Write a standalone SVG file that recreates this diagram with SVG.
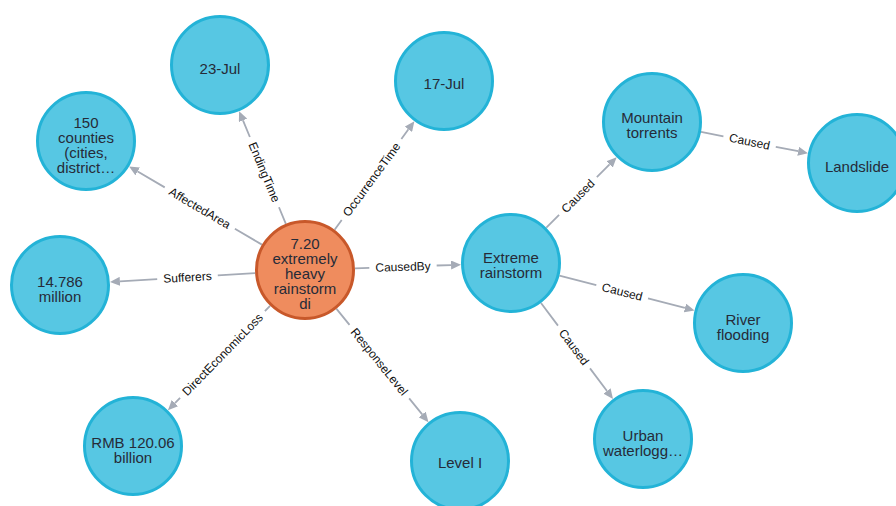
<svg xmlns="http://www.w3.org/2000/svg" width="896" height="506" viewBox="0 0 896 506">
  <defs>
    <marker id="arrow" markerWidth="10" markerHeight="9" refX="0" refY="4.5" orient="auto" markerUnits="userSpaceOnUse">
      <path d="M0,0 L10,4.5 L0,9 Z" fill="#A5ABB6"/>
    </marker>
    <style>
      .edge { fill: none; stroke: #A5ABB6; stroke-width: 1.8; marker-end: url(#arrow); }
      .elabel { font-family: "Liberation Sans", Arial, sans-serif; font-size: 12px; fill: #111; text-anchor: middle; }
      .node circle { stroke-width: 3; }
      .entity circle { fill: #57C7E3; stroke: #23B3D7; }
      .event circle { fill: #EF8C5E; stroke: #C8582A; }
      .node text { font-family: "Liberation Sans", Arial, sans-serif; font-size: 15px; fill: #262B38; text-anchor: middle; }
    </style>
  </defs>
  <rect width="896" height="506" fill="#FFFFFF"/>

  <!-- relationships: each shaft is split around its label -->
  <g id="connectors">
    <path class="edge" d="M285.85,223.81 L278.97,207.22 M249.87,137.02 L242.98,120.43"/>
    <text class="elabel" transform="translate(264.42,172.12) rotate(67.5)" dy=".35em">EndingTime</text>

    <path class="edge" d="M334.63,229.72 L341.71,220.09 M401.37,138.97 L408.45,129.34"/>
    <text class="elabel" transform="translate(371.54,179.53) rotate(-53.67)" dy=".35em">OccurrenceTime</text>

    <path class="edge" d="M261.92,244.62 L234.88,228.70 M164.74,187.38 L137.70,171.46"/>
    <text class="elabel" transform="translate(199.81,208.04) rotate(30.5)" dy=".35em">AffectedArea</text>

    <path class="edge" d="M255.09,273.06 L217.78,275.35 M157.20,279.05 L119.89,281.33"/>
    <text class="elabel" transform="translate(187.49,277.20) rotate(-3.5)" dy=".35em">Sufferers</text>

    <path class="edge" d="M270.05,305.76 L264.92,311.02 M180.08,397.84 L174.94,403.09"/>
    <text class="elabel" transform="translate(222.50,354.43) rotate(-45.7)" dy=".35em">DirectEconomicLoss</text>

    <path class="edge" d="M336.51,308.82 L349.51,324.85 M409.19,398.39 L422.19,414.42"/>
    <text class="elabel" transform="translate(379.35,361.62) rotate(50.94)" dy=".35em">ResponseLevel</text>

    <path class="edge" d="M354.97,268.30 L369.32,267.82 M436.68,265.52 L451.04,265.04"/>
    <text class="elabel" transform="translate(403.00,266.67) rotate(-1.95)" dy=".35em">CausedBy</text>

    <path class="edge" d="M546.36,227.64 L559.08,214.92 M596.84,177.16 L609.57,164.43"/>
    <text class="elabel" transform="translate(577.96,196.04) rotate(-45)" dy=".35em">Caused</text>

    <path class="edge" d="M701.03,131.81 L723.42,136.28 M775.78,146.76 L798.16,151.23"/>
    <text class="elabel" transform="translate(749.60,141.52) rotate(11.31)" dy=".35em">Caused</text>

    <path class="edge" d="M559.41,275.52 L596.31,285.06 M648.01,298.44 L684.91,307.98"/>
    <text class="elabel" transform="translate(622.16,291.75) rotate(14.5)" dy=".35em">Caused</text>

    <path class="edge" d="M541,303 L557.98,325.64 M590.02,368.36 L607,391"/>
    <text class="elabel" transform="translate(574,347) rotate(53.13)" dy=".35em">Caused</text>
  </g>

  <!-- nodes -->
  <g id="event-720" class="node event">
    <circle cx="305" cy="270" r="48.5"/>
    <text x="305" y="249">7.20</text>
    <text x="305" y="264">extremely</text>
    <text x="305" y="279">heavy</text>
    <text x="305" y="294">rainstorm</text>
    <text x="305" y="309">di</text>
  </g>
  <g id="ending-time" class="node entity">
    <circle cx="220" cy="65" r="48.5"/>
    <text x="220" y="74">23-Jul</text>
  </g>
  <g id="occurrence-time" class="node entity">
    <circle cx="444" cy="81" r="48.5"/>
    <text x="444" y="89">17-Jul</text>
  </g>
  <g id="affected-area" class="node entity">
    <circle cx="86" cy="141" r="48.5"/>
    <text x="86" y="127.5">150</text>
    <text x="86" y="142.5">counties</text>
    <text x="86" y="157.5">(cities,</text>
    <text x="86" y="172.5">district…</text>
  </g>
  <g id="sufferers" class="node entity">
    <circle cx="60" cy="285" r="48.5"/>
    <text x="60" y="286.5">14.786</text>
    <text x="60" y="301.5">million</text>
  </g>
  <g id="economic-loss" class="node entity">
    <circle cx="133" cy="446" r="48.5"/>
    <text x="133" y="447.5">RMB 120.06</text>
    <text x="133" y="462.5">billion</text>
  </g>
  <g id="response-level" class="node entity">
    <circle cx="460" cy="461" r="48.5"/>
    <text x="460" y="468">Level I</text>
  </g>
  <g id="extreme-rainstorm" class="node entity">
    <circle cx="511" cy="263" r="48.5"/>
    <text x="511" y="263">Extreme</text>
    <text x="511" y="278">rainstorm</text>
  </g>
  <g id="mountain-torrents" class="node entity">
    <circle cx="652" cy="122" r="48.5"/>
    <text x="652" y="122.5">Mountain</text>
    <text x="652" y="137.5">torrents</text>
  </g>
  <g id="landslide" class="node entity">
    <circle cx="857" cy="163" r="48.5"/>
    <text x="857" y="172">Landslide</text>
  </g>
  <g id="river-flooding" class="node entity">
    <circle cx="743" cy="323" r="48.5"/>
    <text x="743" y="324.5">River</text>
    <text x="743" y="339.5">flooding</text>
  </g>
  <g id="urban-waterlogging" class="node entity">
    <circle cx="643" cy="439" r="48.5"/>
    <text x="643" y="440.5">Urban</text>
    <text x="643" y="455.5">waterlogg…</text>
  </g>
</svg>
